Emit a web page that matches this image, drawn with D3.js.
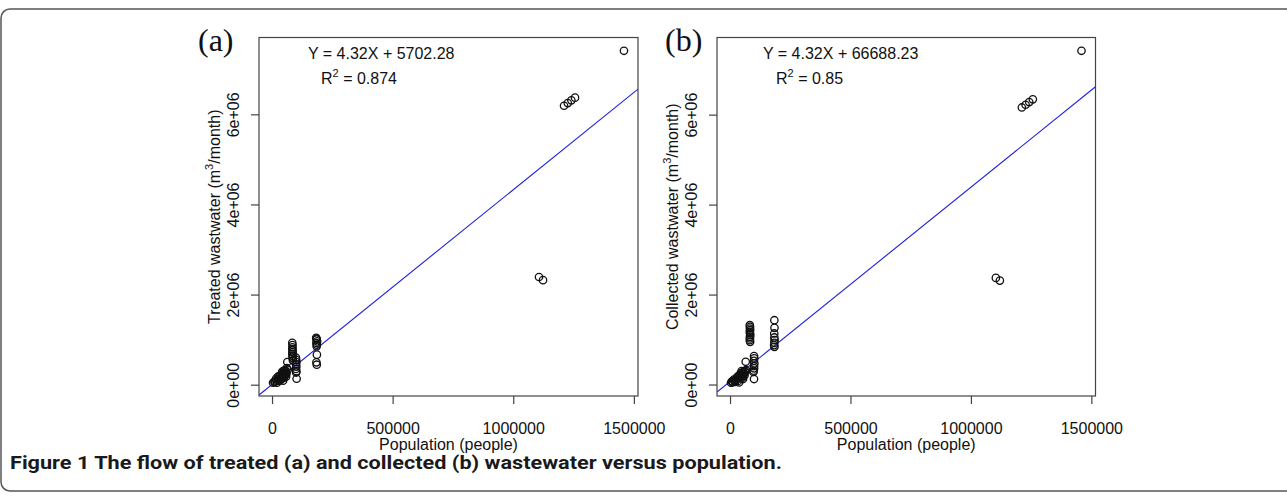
<!DOCTYPE html>
<html>
<head>
<meta charset="utf-8">
<script src="https://cdn.jsdelivr.net/npm/d3@7"></script>
<style>
  body { margin: 0; background: #fff; }
  svg { display: block; }
  .r-text { font-family: "Liberation Sans", Arial, Helvetica, sans-serif; fill: #111; }
</style>
</head>
<body>
<div id="chart-area"></div>
<script>
// Axis ticks (same for both panels)
var xTicks = [0, 500000, 1000000, 1500000]
var xTickLabels = ["0", "500000", "1000000", "1500000"]
var yTicks = [0, 2000000, 4000000, 6000000]
var yTickLabels = ["0e+00", "2e+06", "4e+06", "6e+06"]

// Panel (a): population vs treated wastewater (m3/month)
var treatedPop = [
    4200, 12500, 20800, 29000, 37400, 45700, 49800, 58100, 33200, 41500, 49800, 58100,
    16600, 24900, 41500, 54000, 25000, 45000, 55000, 60000, 35000, 61000, 65000,
    10000, 18000, 27000, 32000, 40000, 47000, 52000, 57000, 43000, 50000,
    84000, 84500, 85000, 85500, 84000, 86000, 85000, 86500, 85000, 84500,
    99000, 100000, 101000, 99500, 100500, 99000, 101000, 100000, 102000,
    63500,
    183000, 185000, 187000, 184000, 186000, 185000, 186000, 184000, 185500, 184500,
    1106800, 1123400, 1210600, 1226000, 1241000, 1256000, 1459000
]
var treatedFlow = [
    44000, 67000, 44000, 89000, 111000, 89000, 156000, 178000, 200000, 267000, 311000, 289000,
    133000, 178000, 156000, 222000, 100000, 240000, 320000, 250000, 150000, 370000, 330000,
    60000, 90000, 130000, 110000, 190000, 210000, 260000, 230000, 290000, 180000,
    930000, 830000, 760000, 720000, 680000, 640000, 600000, 540000, 880000, 790000,
    600000, 550000, 500000, 450000, 400000, 350000, 300000, 270000, 133000,
    504000,
    1040000, 1000000, 962000, 926000, 889000, 851000, 667000, 496000, 444000, 1020000,
    2390000, 2320000, 6190000, 6250000, 6310000, 6370000, 7410000
]

// Panel (b): population vs collected wastewater (m3/month)
var collectedPop = [
    4100, 12400, 24900, 33200, 41500, 49800, 58100, 62200, 45600, 29000, 53900, 66400,
    37300, 20700, 16000, 55000, 60000, 48000, 38000, 8000,
    10000, 18000, 27000, 35000, 43000, 51000, 57000, 63000, 46000, 52000,
    82000, 83000, 82500, 83500, 82000, 83000, 84000, 82500, 83000, 82000, 83500,
    99600, 100500, 99000, 101000, 99500, 100000, 98500, 97000, 99600,
    65100,
    184000, 184500, 183500, 184000, 185000, 184000, 183000, 184500,
    1103600, 1120200, 1211500, 1227000, 1242000, 1257000, 1459000
]
var collectedFlow = [
    40000, 55000, 100000, 78000, 144000, 188000, 233000, 277000, 255000, 166000, 122000, 320000,
    45000, 60000, 110000, 280000, 200000, 300000, 210000, 70000,
    50000, 85000, 120000, 140000, 200000, 230000, 260000, 300000, 170000, 150000,
    1319000, 1282000, 1246000, 1208000, 1171000, 1135000, 1098000, 1060000, 1024000, 987000, 949000,
    632000, 581000, 528000, 470000, 410000, 359000, 306000, 280000, 122000,
    505600,
    1430000, 1260000, 1135000, 1046000, 987000, 927000, 876000, 838000,
    2370000, 2310000, 6160000, 6220000, 6280000, 6340000, 7420000
]

// Fitted regression lines
var fitSlope = [4.32, 4.32]
var fitIntercept = [5702.28, 66688.23]
var fitR2 = ["0.874", "0.85"]

var panelLetters = ["(a)", "(b)"]
var yTitles = ["Treated wastwater", "Collected wastwater"]
var xTitle = "Population (people)"
var caption = "Figure 1 The flow of treated (a) and collected (b) wastewater versus population."

// --> SVG DRAWING AREA
var width = 1287
var height = 500

const PLOT_TOP = 37.5
const PLOT_BOTTOM = 396
const TICK_LEN = 8
const FONT_SIZE = 16

var panels = [
    { x0: 259, x1: 638, pop: treatedPop, flow: treatedFlow, eqX: 308, letterX: 198 },
    { x0: 717, x1: 1095.5, pop: collectedPop, flow: collectedFlow, eqX: 763, letterX: 665 }
]

var svg = d3.select("#chart-area").append("svg")
    .attr("width", width)
    .attr("height", height)

// rounded frame around the figure (runs off the right side)
svg.append("rect")
    .attr("x", 1)
    .attr("y", 9)
    .attr("width", 1330)
    .attr("height", 482)
    .attr("rx", 9)
    .style("fill", "none")
    .style("stroke", "#555")
    .style("stroke-width", 1.5)

// R style axis range: data extent plus 4% each side
function rPad(ext) {
    var r = ext[1] - ext[0]
    return [ext[0] - 0.04 * r, ext[1] + 0.04 * r]
}

panels.forEach(function(p, i) {
    drawPanel(p, i)
})

function drawPanel(p, i) {

    var points = p.pop.map(function(d, j) { return { x: d, y: p.flow[j] } })

    var xScale = d3.scaleLinear()
        .domain(rPad(d3.extent(p.pop)))
        .range([p.x0, p.x1])

    var yScale = d3.scaleLinear()
        .domain(rPad(d3.extent(p.flow)))
        .range([PLOT_BOTTOM, PLOT_TOP])

    var g = svg.append("g").attr("class", "panel-" + i)

    g.append("clipPath")
        .attr("id", "clip-" + i)
        .append("rect")
        .attr("x", p.x0)
        .attr("y", PLOT_TOP)
        .attr("width", p.x1 - p.x0)
        .attr("height", PLOT_BOTTOM - PLOT_TOP)

    // fitted line, clipped to the plot region like abline()
    var xd = xScale.domain()
    var line = d3.line()
        .x(function(d) { return xScale(d) })
        .y(function(d) { return yScale(fitSlope[i] * d + fitIntercept[i]) })

    g.append("path")
        .datum(xd)
        .attr("clip-path", "url(#clip-" + i + ")")
        .attr("d", line)
        .style("fill", "none")
        .style("stroke", "#2020e0")
        .style("stroke-width", 1.1)

    // open circles
    g.append("g").selectAll("circle")
        .data(points)
        .enter()
        .append("circle")
        .attr("cx", function(d) { return xScale(d.x) })
        .attr("cy", function(d) { return yScale(d.y) })
        .attr("r", 3.7)
        .style("fill", "none")
        .style("stroke", "#111")
        .style("stroke-width", 1.3)

    // box
    g.append("rect")
        .attr("x", p.x0)
        .attr("y", PLOT_TOP)
        .attr("width", p.x1 - p.x0)
        .attr("height", PLOT_BOTTOM - PLOT_TOP)
        .style("fill", "none")
        .style("stroke", "#444")
        .style("stroke-width", 1.2)

    // x axis
    var xAxis = d3.axisBottom(xScale)
        .tickValues(xTicks)
        .tickFormat(function(d, k) { return xTickLabels[k] })
        .tickSize(TICK_LEN)
        .tickPadding(18.6)

    var xg = g.append("g")
        .attr("transform", "translate(0," + PLOT_BOTTOM + ")")
        .call(xAxis)
    xg.select(".domain").remove()
    xg.attr("font-size", FONT_SIZE).attr("font-family", null)
    xg.selectAll(".tick line").style("stroke", "#444").style("stroke-width", 1.2)
    xg.selectAll(".tick text").attr("class", "r-text")

    // y axis, labels parallel to the axis
    var yAxis = d3.axisLeft(yScale)
        .tickValues(yTicks)
        .tickFormat(function(d, k) { return yTickLabels[k] })
        .tickSize(TICK_LEN)

    var yg = g.append("g")
        .attr("transform", "translate(" + p.x0 + ",0)")
        .call(yAxis)
    yg.select(".domain").remove()
    yg.attr("font-size", FONT_SIZE).attr("font-family", null)
    yg.selectAll(".tick line").style("stroke", "#444").style("stroke-width", 1.2)
    yg.selectAll(".tick text")
        .attr("class", "r-text")
        .attr("x", 0)
        .attr("y", -20.5)
        .attr("dy", 0)
        .attr("transform", "rotate(-90)")
        .style("text-anchor", "middle")

    // axis titles
    g.append("text")
        .attr("class", "r-text")
        .attr("x", (p.x0 + p.x1) / 2)
        .attr("y", 450)
        .style("text-anchor", "middle")
        .style("font-size", FONT_SIZE + "px")
        .text(xTitle)

    var yt = g.append("text")
        .attr("class", "r-text")
        .attr("transform", "translate(" + (p.x0 - 39.5) + "," + ((PLOT_TOP + PLOT_BOTTOM) / 2) + ") rotate(-90)")
        .style("text-anchor", "middle")
        .style("font-size", FONT_SIZE + "px")
    yt.append("tspan").text(yTitles[i] + " (m")
    yt.append("tspan").attr("dy", -7).style("font-size", "11px").text("3")
    yt.append("tspan").attr("dy", 7).text("/month)")

    // regression equation
    g.append("text")
        .attr("class", "r-text")
        .attr("x", p.eqX)
        .attr("y", 58.5)
        .style("font-size", FONT_SIZE + "px")
        .text("Y = " + fitSlope[i] + "X + " + d3.format(".2f")(fitIntercept[i]))

    var r2 = g.append("text")
        .attr("class", "r-text")
        .attr("x", p.eqX + 13)
        .attr("y", 83.5)
        .style("font-size", FONT_SIZE + "px")
    r2.append("tspan").text("R")
    r2.append("tspan").attr("dy", -7).style("font-size", "11px").text("2")
    r2.append("tspan").attr("dy", 7).text(" = " + fitR2[i])

    // panel letter
    g.append("text")
        .attr("x", p.letterX)
        .attr("y", 50.5)
        .style("font-family", "'Liberation Serif', 'Times New Roman', serif")
        .style("font-size", "32px")
        .style("fill", "#111")
        .text(panelLetters[i])
}

// figure caption
svg.append("text")
    .attr("x", 10)
    .attr("y", 469)
    .attr("textLength", 772)
    .attr("lengthAdjust", "spacingAndGlyphs")
    .style("font-family", "Roboto, 'Noto Sans', sans-serif")
    .style("font-weight", "bold")
    .style("font-size", "17.5px")
    .style("fill", "#1a1a1a")
    .text(caption)
</script>
</body>
</html>
